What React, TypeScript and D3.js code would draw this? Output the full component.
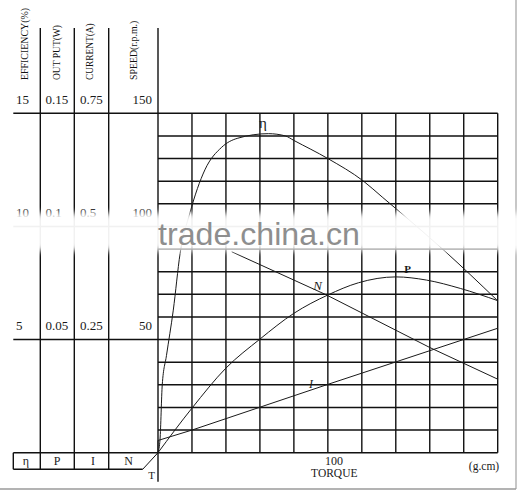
import * as d3 from 'd3'

const W = 519
const H = 490

// torque axis (g.cm)
const torqueGrid = [0, 20, 40, 60, 80, 100, 120, 140, 160, 180, 200]
// speed axis rows (r.p.m.)
const speedGrid = [0, 10, 20, 30, 40, 50, 60, 70, 80, 90, 100, 110, 120, 130, 140, 150]

// left scale columns
const scaleRows = [150, 100, 50]
const effLabels = ['15', '10', '5']
const outLabels = ['0.15', '0.1', '0.05']
const curLabels = ['0.75', '0.5', '0.25']
const spdLabels = ['150', '100', '50']

// efficiency η (%)
const effTorque = [0, 1.2, 2.5, 5, 9, 13, 18.8, 27.6, 37.5, 47, 65, 75, 80, 100, 121, 132, 143, 169, 199.5]
const effValues = [0, 0.6, 3.0, 4.3, 6.3, 8.8, 10.6, 12.5, 13.5, 13.9, 14.1, 14.0, 13.8, 13.0, 12.0, 11.3, 10.6, 8.9, 6.75]

// output P (W)
const outTorque = [0, 20, 40, 60, 80, 100, 118, 140, 158, 178, 200]
const outValues = [0, 0.0197, 0.0374, 0.0502, 0.0616, 0.0697, 0.0751, 0.0777, 0.0763, 0.0726, 0.0672]

// current I (A)
const curTorque = [0, 0, 20, 100, 200]
const curValues = [0, 0.027, 0.05, 0.151, 0.275]

// speed N (r.p.m.)
const spdTorque = [43.4, 99, 160, 200]
const spdValues = [88.8, 69.8, 46.5, 32.5]

const SERIF = "'Liberation Serif', 'DejaVu Serif', serif"

const x = d3.scaleLinear().domain([0, 200]).range([158, 497.7])
const yN = d3.scaleLinear().domain([0, 150]).range([452.7, 113.3])
const yEff = d3.scaleLinear().domain([0, 15]).range([452.7, 113.3])
const yP = d3.scaleLinear().domain([0, 0.15]).range([452.7, 113.3])
const yI = d3.scaleLinear().domain([0, 0.75]).range([452.7, 113.3])

const TABLE_LEFT = 13.3
const colX = [40.3, 74.3, 108.7]

function path(xs: number[], ys: number[], ys_scale: d3.ScaleLinear<number, number>, curve: d3.CurveFactory) {
  const pts = xs.map((t, i) => [t, ys[i]] as [number, number])
  return (
    d3
      .line<[number, number]>()
      .x((d) => x(d[0]))
      .y((d) => ys_scale(d[1]))
      .curve(curve)(pts) ?? ''
  )
}

export default function App() {
  const x0 = x(0)
  const xEnd = x(200)
  const yTop = yN(150)
  const yBot = yN(0)

  return (
    <div style={{ position: 'fixed', left: 0, top: 0 }}>
      <svg width={W} height={H} style={{ display: 'block', background: '#fff' }}>
        <defs>
          <filter id="wm" x="-5%" y="-50%" width="110%" height="200%">
            <feGaussianBlur stdDeviation="3" />
          </filter>
        </defs>

        {/* frame of the picture */}
        <line x1={516} x2={516} y1={0} y2={489} stroke="#b5b5b5" strokeWidth={1.5} />
        <line x1={0} x2={516} y1={489} y2={489} stroke="#9a9a9a" strokeWidth={1.5} />

        {/* grid verticals */}
        {torqueGrid.slice(1).map((t) => (
          <line key={'v' + t} x1={x(t)} x2={x(t)} y1={yTop} y2={yBot} stroke="#111" strokeWidth={1.4} />
        ))}
        {/* grid horizontals */}
        {speedGrid.map((s) => {
          const long = s % 50 === 0
          return (
            <line
              key={'h' + s}
              x1={long ? TABLE_LEFT : x0}
              x2={xEnd}
              y1={yN(s)}
              y2={yN(s)}
              stroke="#111"
              strokeWidth={1.4}
            />
          )
        })}

        {/* left table verticals */}
        {colX.map((cx) => (
          <line key={'c' + cx} x1={cx} x2={cx} y1={28} y2={469.3} stroke="#111" strokeWidth={1.4} />
        ))}
        <line x1={x0} x2={x0} y1={28} y2={481.7} stroke="#111" strokeWidth={1.4} />

        {/* bottom label box */}
        <line x1={TABLE_LEFT} x2={TABLE_LEFT} y1={yBot} y2={469.3} stroke="#111" strokeWidth={1.4} />
        <line x1={TABLE_LEFT} x2={142.7} y1={469.3} y2={469.3} stroke="#111" strokeWidth={1.4} />
        <line x1={142.7} x2={x0} y1={469.3} y2={yBot} stroke="#111" strokeWidth={1} />

        {/* column titles */}
        {[
          { t: 'EFFICIENCY(%)', bx: 28, len: 72 },
          { t: 'OUT PUT(W)', bx: 60, len: 55 },
          { t: 'CURRENT(A)', bx: 93, len: 56.7 },
          { t: 'SPEED(r.p.m.)', bx: 136.5, len: 59.3 },
        ].map((c) => (
          <text
            key={c.t}
            transform={`translate(${c.bx},80) rotate(-90)`}
            fontFamily={SERIF}
            fontSize={10.5}
            textLength={c.len}
            lengthAdjust="spacingAndGlyphs"
            fill="#111"
          >
            {c.t}
          </text>
        ))}

        {/* scale labels */}
        {scaleRows.map((s, i) => {
          const by = yN(s) - 9.5
          return (
            <g key={'r' + s} fontFamily={SERIF} fontSize={13} fill="#1a1a1a">
              <text x={16} y={by}>{effLabels[i]}</text>
              <text x={45.5} y={by}>{outLabels[i]}</text>
              <text x={80} y={by}>{curLabels[i]}</text>
              <text x={152} y={by} textAnchor="end">{spdLabels[i]}</text>
            </g>
          )
        })}

        {/* bottom box labels */}
        <g fontFamily={SERIF} fontSize={12} fill="#1a1a1a" textAnchor="middle">
          <text x={26} y={465}>η</text>
          <text x={57} y={465}>P</text>
          <text x={93} y={465}>I</text>
          <text x={128.5} y={465}>N</text>
          <text x={151.7} y={478.5} fontSize={11}>T</text>
        </g>

        {/* curves */}
        <g fill="none" stroke="#1a1a1a" strokeWidth={1}>
          <path d={path(effTorque, effValues, yEff, d3.curveMonotoneX)} />
          <path d={path(outTorque, outValues, yP, d3.curveMonotoneX)} />
          <path d={path(curTorque, curValues, yI, d3.curveLinear)} />
          <path d={path(spdTorque, spdValues, yN, d3.curveLinear)} />
        </g>

        {/* curve labels */}
        <text x={263} y={128} fontFamily={SERIF} fontSize={15} textAnchor="middle" fill="#1a1a1a">η</text>
        <text x={407.5} y={273.3} fontFamily={SERIF} fontSize={11} fontWeight="bold" textAnchor="middle" fill="#1a1a1a">P</text>
        <text x={317.5} y={290} fontFamily={SERIF} fontSize={13} fontStyle="italic" textAnchor="middle" fill="#1a1a1a">N</text>
        <text x={311} y={388} fontFamily={SERIF} fontSize={12} fontStyle="italic" textAnchor="middle" fill="#1a1a1a">I</text>

        {/* torque axis labels */}
        <g fontFamily={SERIF} fill="#1a1a1a" textAnchor="middle">
          <text x={334} y={465} fontSize={12}>100</text>
          <text x={334.3} y={476.7} fontSize={11.5}>TORQUE</text>
          <text x={484} y={470} fontSize={11.5}>(g.cm)</text>
        </g>

        {/* watermark band */}
        <rect x={-10} y={213} width={W + 20} height={38} fill="#fff" opacity={0.94} filter="url(#wm)" />
        <text
          x={158}
          y={245}
          fontFamily="'Liberation Sans', Arial, sans-serif"
          fontSize={32}
          fill="#8e8e8e"
          textLength={202}
          lengthAdjust="spacingAndGlyphs"
        >
          trade.china.cn
        </text>
      </svg>
    </div>
  )
}
